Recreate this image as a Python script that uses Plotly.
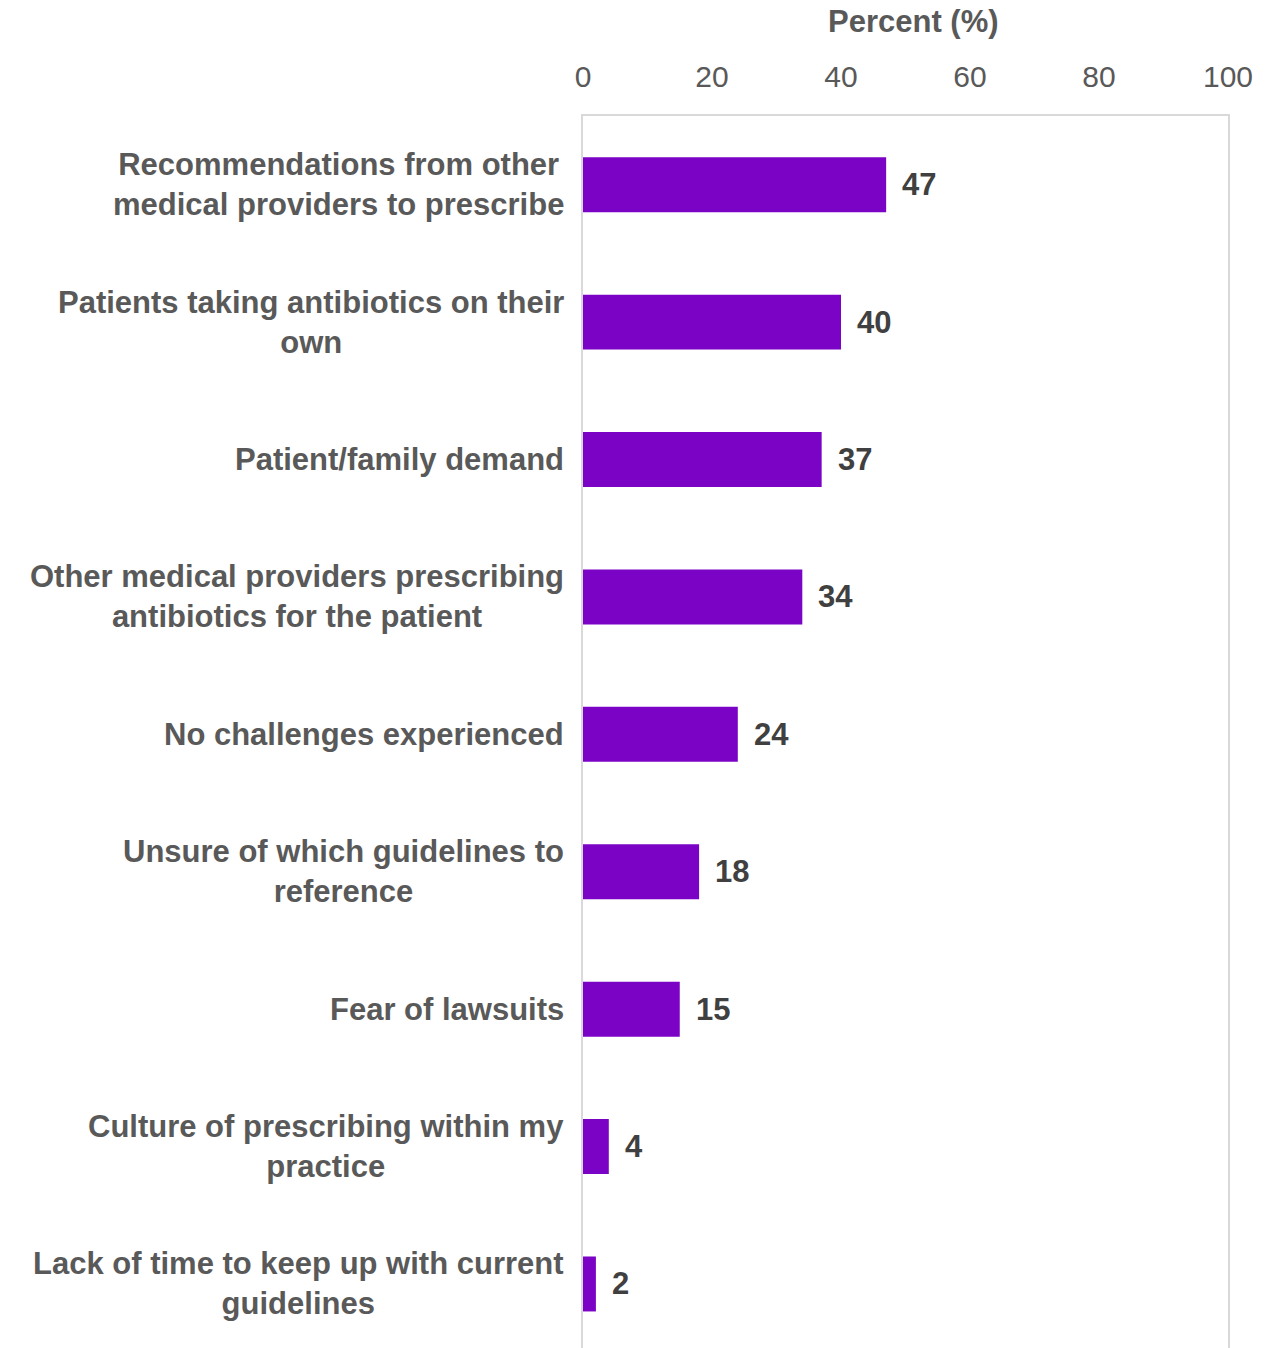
import plotly.graph_objects as go

# Survey results: challenges reported when prescribing antibiotics
categories = [
    "Recommendations from other<br>medical providers to prescribe",
    "Patients taking antibiotics on their<br>own",
    "Patient/family demand",
    "Other medical providers prescribing<br>antibiotics for the patient",
    "No challenges experienced",
    "Unsure of which guidelines to<br>reference",
    "Fear of lawsuits",
    "Culture of prescribing within my<br>practice",
    "Lack of time to keep up with current<br>guidelines",
]
percent = [47, 40, 37, 34, 24, 18, 15, 4, 2]
x_ticks = [0, 20, 40, 60, 80, 100]

BAR = "#7B03C6"
LABEL = "#595959"
VALUE = "#404040"
FONT = "Liberation Sans, Arial, sans-serif"

W, H = 1267, 1348
ML, MR, MT, MB = 583, 39, 116, 0

positions = list(range(len(categories)))

fig = go.Figure(
    go.Bar(
        x=percent,
        y=positions,
        orientation="h",
        width=0.4,
        marker=dict(color=BAR, line=dict(width=0)),
        hoverinfo="x",
    )
)

# Category labels, centred line by line and right-aligned to the axis
for pos, cat in zip(positions, categories):
    fig.add_annotation(
        x=0, y=pos, xref="x", yref="y",
        text=f"<b>{cat}</b>",
        xanchor="right", yanchor="middle", align="center",
        xshift=-17, showarrow=False,
        font=dict(family=FONT, size=31, color=LABEL),
    )

# Value labels at the end of each bar
for pos, val in zip(positions, percent):
    fig.add_annotation(
        x=val, y=pos, xref="x", yref="y",
        text=f"<b>{val}</b>",
        xanchor="left", yanchor="middle",
        xshift=14, showarrow=False,
        font=dict(family=FONT, size=31, color=VALUE),
    )

# Axis title above the tick labels
fig.add_annotation(
    x=(913 - ML) / (W - ML - MR),
    y=1 + (MT - 22) / (H - MT - MB),
    xref="paper", yref="paper",
    text="<b>Percent (%)</b>", showarrow=False,
    xanchor="center", yanchor="middle",
    font=dict(family=FONT, size=31, color=LABEL),
)

fig.update_layout(
    width=W,
    height=H,
    margin=dict(l=ML, r=MR, t=MT, b=MB),
    paper_bgcolor="white",
    plot_bgcolor="white",
    showlegend=False,
    font=dict(family=FONT, color=LABEL),
    xaxis=dict(
        side="top",
        range=[0, 100],
        tickvals=x_ticks,
        ticktext=[str(t) for t in x_ticks],
        tickfont=dict(family=FONT, size=30, color=LABEL),
        ticks="",
        ticklabelstandoff=15,
        showgrid=False,
        zeroline=False,
        showline=True,
        linecolor="#D9D9D9",
        linewidth=2,
    ),
    yaxis=dict(
        range=[8.466, -0.5],
        showticklabels=False,
        ticks="",
        showgrid=False,
        zeroline=False,
        showline=True,
        mirror=True,
        linecolor="#D9D9D9",
        linewidth=2,
    ),
)

fig.write_html("out.html")
